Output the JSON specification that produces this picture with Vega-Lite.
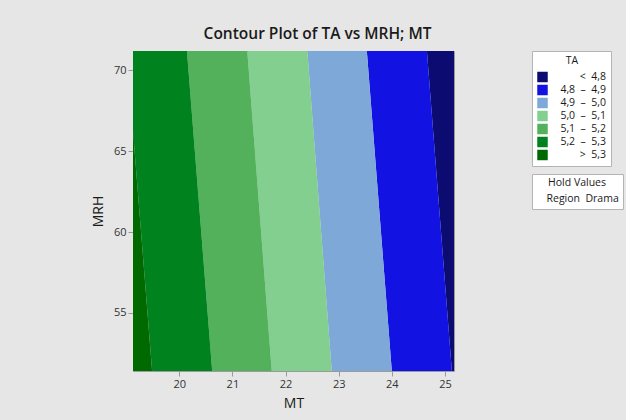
{
  "$schema": "https://vega.github.io/schema/vega-lite/v6.json",
  "width": 321,
  "height": 320,
  "autosize": {"type": "none"},
  "padding": {"left": 133, "top": 51, "right": 172, "bottom": 49},
  "background": "#e6e6e6",
  "title": {
    "text": "Contour Plot of TA vs MRH; MT",
    "font": "Open Sans",
    "fontSize": 15.5,
    "fontWeight": 600,
    "color": "#1a1a1a",
    "anchor": "middle",
    "frame": "group",
    "dx": 24,
    "offset": 8
  },
  "config": {
    "font": "Open Sans",
    "view": {"stroke": "#9a9a9a", "strokeWidth": 1, "fill": null},
    "axis": {
      "grid": false,
      "domain": false,
      "tickColor": "#9a9a9a",
      "tickSize": 5,
      "labelFont": "Open Sans",
      "labelFontSize": 11,
      "labelColor": "#333333",
      "titleFont": "Open Sans",
      "titleFontSize": 14,
      "titleFontWeight": "normal",
      "titleColor": "#1a1a1a"
    },
    "legend": {
      "fillColor": "white",
      "strokeColor": "#b4b4b4",
      "padding": 5,
      "titleFont": "Open Sans",
      "labelFont": "Open Sans",
      "titleFontSize": 10.5,
      "labelFontSize": 10.5,
      "titleFontWeight": "normal",
      "titleColor": "#1a1a1a",
      "labelColor": "#1a1a1a"
    }
  },
  "datasets": {
    "bands": [
      {"TA": "< 4,8", "MRH": 51.4, "MT_lo": 25.13, "MT_hi": 25.6},
      {"TA": "< 4,8", "MRH": 71.2, "MT_lo": 24.66, "MT_hi": 25.6},
      {"TA": "4,8 – 4,9", "MRH": 51.4, "MT_lo": 24.0, "MT_hi": 25.13},
      {"TA": "4,8 – 4,9", "MRH": 71.2, "MT_lo": 23.53, "MT_hi": 24.66},
      {"TA": "4,9 – 5,0", "MRH": 51.4, "MT_lo": 22.87, "MT_hi": 24.0},
      {"TA": "4,9 – 5,0", "MRH": 71.2, "MT_lo": 22.41, "MT_hi": 23.53},
      {"TA": "5,0 – 5,1", "MRH": 51.4, "MT_lo": 21.74, "MT_hi": 22.87},
      {"TA": "5,0 – 5,1", "MRH": 71.2, "MT_lo": 21.28, "MT_hi": 22.41},
      {"TA": "5,1 – 5,2", "MRH": 51.4, "MT_lo": 20.62, "MT_hi": 21.74},
      {"TA": "5,1 – 5,2", "MRH": 71.2, "MT_lo": 20.145, "MT_hi": 21.28},
      {"TA": "5,2 – 5,3", "MRH": 51.4, "MT_lo": 19.49, "MT_hi": 20.62},
      {"TA": "5,2 – 5,3", "MRH": 71.2, "MT_lo": 19.01, "MT_hi": 20.145},
      {"TA": "> 5,3", "MRH": 51.4, "MT_lo": 18.6, "MT_hi": 19.49},
      {"TA": "> 5,3", "MRH": 71.2, "MT_lo": 18.6, "MT_hi": 19.01}
    ],
    "hold": [
      {"Region": "Drama"}
    ]
  },
  "layer": [
    {
      "data": {"name": "bands"},
      "mark": {"type": "area", "orient": "horizontal", "clip": true, "opacity": 1},
      "encoding": {
        "y": {
          "field": "MRH",
          "type": "quantitative",
          "scale": {"domain": [51.4, 71.2], "nice": false, "zero": false},
          "axis": {"values": [55, 60, 65, 70], "title": "MRH", "titlePadding": 8}
        },
        "x": {
          "field": "MT_lo",
          "type": "quantitative",
          "scale": {"domain": [19.13, 25.17], "nice": false, "zero": false},
          "axis": {"values": [20, 21, 22, 23, 24, 25], "title": "MT", "titlePadding": 7}
        },
        "x2": {"field": "MT_hi"},
        "color": {
          "field": "TA",
          "type": "nominal",
          "scale": {
            "domain": ["< 4,8", "4,8 – 4,9", "4,9 – 5,0", "5,0 – 5,1", "5,1 – 5,2", "5,2 – 5,3", "> 5,3"],
            "range": ["#0b0b72", "#1212e2", "#7da8d8", "#82cf90", "#53b05b", "#00821f", "#006a00"]
          },
          "legend": {
            "title": "TA",
            "titleAnchor": "middle",
            "orient": "right",
            "offset": 78,
            "symbolType": "square",
            "symbolSize": 110,
            "symbolStrokeWidth": 0,
            "rowPadding": 2,
            "labelAlign": "right",
            "labelOffset": 58,
            "labelExpr": "indexof(datum.label, '–') < 0 ? replace(datum.label, ' ', '\u00a0\u00a0') : replace(datum.label, ' – ', '\u00a0\u00a0–\u00a0\u00a0')"
          }
        }
      }
    },
    {
      "data": {"name": "hold"},
      "mark": {"type": "point", "opacity": 0},
      "encoding": {
        "shape": {
          "field": "Region",
          "type": "nominal",
          "legend": {
            "title": "Hold Values",
            "titleAnchor": "middle",
            "orient": "right",
            "offset": 78,
            "padding": 4,
            "symbolSize": 0,
            "symbolOpacity": 0,
            "symbolStrokeWidth": 0,
            "labelOffset": 0,
            "labelExpr": "'Region\u00a0\u00a0' + datum.label"
          }
        }
      }
    }
  ]
}
